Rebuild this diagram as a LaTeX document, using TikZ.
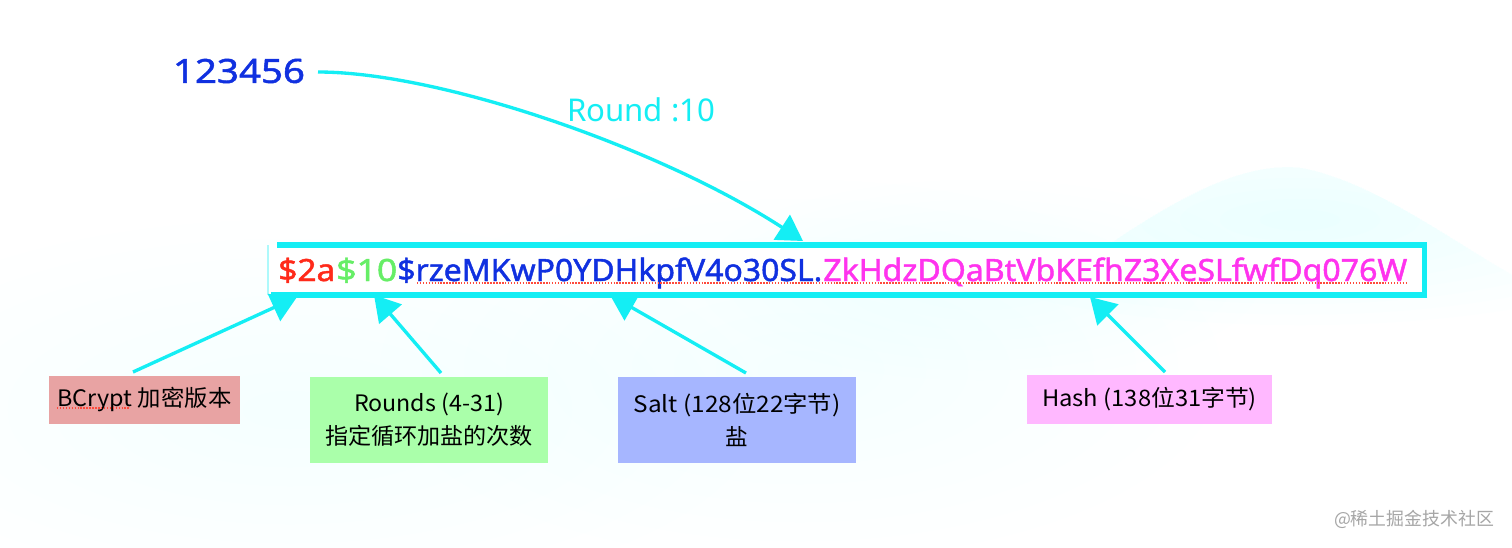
\documentclass[tikz,border=0pt]{standalone}
\usepackage{fontspec}
\usepackage{graphicx}
\usetikzlibrary{arrows.meta,calc}
\setmainfont{Noto Sans}
\newfontfamily\heavyfont[RawFeature={embolden=1.4}]{Noto Sans}
\newfontfamily\cjkfont{Noto Sans CJK SC}
\definecolor{cyanline}{HTML}{14EEF4}
\definecolor{pxred}{HTML}{FF2A1A}
\definecolor{pxgreen}{HTML}{66EE66}
\definecolor{pxblue}{HTML}{1030E0}
\definecolor{pxpink}{HTML}{FF33EE}
\newsavebox{\fitbox}
\newcommand{\fitrun}[2]{\sbox{\fitbox}{#2}\pgfmathsetmacro{\fitratio}{#1*0.75pt/\wd\fitbox}\scalebox{\fitratio}[1]{\usebox{\fitbox}}}
\newcommand{\lblrun}[2]{\raisebox{-1.5pt}{\fitrun{#1}{#2}}}
\newcommand{\softblob}[4]{\foreach \k in {1,0.9,0.8,0.7,0.6,0.5,0.4,0.3,0.2,0.1}{\fill[blend mode=multiply,fill={rgb,255:red,#4;green,255;blue,255}] (#1) ellipse ({\k*#2} and {\k*#3});}}
\tikzset{
  x=0.75pt,y=-0.75pt,
  label box/.style={draw=none,inner sep=0pt,align=center,text=black,font=\cjkfont\fontsize{17pt}{24.75pt}\selectfont},
  run/.style={anchor=base west,inner sep=0pt,font=\heavyfont\fontsize{23pt}{23pt}\selectfont},
  pointer/.style={draw=cyanline,line width=2.5pt,-{Triangle[length=19pt,width=22pt,fill=cyanline]}},
  squiggle/.style={draw=pxred!85!white,line width=1.3pt,dash pattern=on 1.1pt off 1.1pt},
  edge line/.style={draw=cyanline,line width=4.2pt}
}
\begin{document}
\begin{tikzpicture}
\useasboundingbox (0,0) rectangle (1512,547);
\fill[white] (0,0) rectangle (1512,547);
% pale background wash
\begin{scope}
\clip (0,0) rectangle (1512,547);
\softblob{290,410}{470}{190}{254}
\softblob{800,370}{420}{190}{254}
\softblob{980,280}{280}{100}{254}
\end{scope}
\begin{scope}
\clip (1000,320) .. controls (1130,230) and (1220,160) .. (1300,168)
  .. controls (1370,180) and (1450,240) .. (1512,275) -- (1512,547) -- (1000,547) -- cycle;
\softblob{1300,220}{400}{105}{253}
\end{scope}
% main string box
\node[fill=white,minimum width=1156*0.75pt,minimum height=49.5*0.75pt,inner sep=0pt,anchor=north west] (hashbox) at (268,245) {};
\draw[edge line] ([xshift=7pt]hashbox.north west) -- ([xshift=2.1pt]hashbox.north east);
\draw[edge line] (hashbox.north east) -- (hashbox.south east);
\draw[edge line] ([xshift=2.1pt]hashbox.south east) -- ([xshift=2pt]hashbox.south west);
\draw[draw=cyanline!35,line width=0.8pt] (hashbox.north west) -- (hashbox.south west);
\node[run,text=pxred] (ver) at (278,281) {\fitrun{57}{\$2a}};
\node[run,text=pxgreen] (rnd) at (336,281) {\fitrun{61}{\$10}};
\node[run,text=pxblue] (salt) at (397,281) {\fitrun{425}{\$rzeMKwP0YDHkpfV4o30SL.}};
\node[run,text=pxpink] (hash) at (823,281) {\fitrun{584}{ZkHdzDQaBtVbKEfhZ3XeSLfwfDq076W}};
\coordinate (ul1) at (417,283);
\coordinate (ul2) at (1407,283);
\draw[squiggle] (ul1) -- (ul2);
% labels
\node[inner sep=0pt,text=pxblue,font=\heavyfont\fontsize{25pt}{25pt}\selectfont] (pwd) at (239,71) {\fitrun{132}{123456}};
\node[inner sep=0pt,text=cyanline,font=\fontsize{23.5pt}{23.5pt}\selectfont] (roundlbl) at (641,110) {\fitrun{148}{Round :10}};
\node[inner sep=0pt,text=black!35,font=\cjkfont\fontsize{13.5pt}{13.5pt}\selectfont] (wm) at (1414,519) {\fitrun{160}{@稀土掘金技术社区}};
\node[label box,fill={rgb,255:red,232;green,163;blue,163},minimum width=191*0.75pt,minimum height=48*0.75pt] (vbox) at (144.5,400) {\lblrun{174}{BCrypt 加密版本}};
\node[label box,fill={rgb,255:red,170;green,255;blue,170},minimum width=238*0.75pt,minimum height=86*0.75pt] (rbox) at (429,420) {\lblrun{150}{Rounds (4-31)}\\\lblrun{208}{指定循环加盐的次数}};
\node[label box,fill={rgb,255:red,166;green,182;blue,255},minimum width=238*0.75pt,minimum height=86*0.75pt] (sbox) at (737,420) {\lblrun{207}{Salt (128位22字节)}\\\raisebox{-1.5pt}{盐}};
\node[label box,fill={rgb,255:red,255;green,184;blue,255},minimum width=245*0.75pt,minimum height=49*0.75pt] (hbox) at (1149.5,399.5) {\lblrun{215}{Hash (138位31字节)}};
\coordinate (bcu1) at (57,408);
\coordinate (bcu2) at (130,408);
\draw[squiggle,line width=0.8pt] (bcu1) -- (bcu2);
% connectors
\coordinate (a1s) at (133,372); \coordinate (a1e) at (297,297);
\coordinate (a2s) at (441,373); \coordinate (a2e) at (374,295);
\coordinate (a3s) at (746,373); \coordinate (a3e) at (610,295);
\coordinate (a4s) at (1165,372); \coordinate (a4e) at (1090,297);
\coordinate (a5s) at (318,72); \coordinate (a5e) at (803,241);
\draw[pointer] (a1s) -- (a1e);
\draw[pointer] (a2s) -- (a2e);
\draw[pointer] (a3s) -- (a3e);
\draw[pointer] (a4s) -- (a4e);
\draw[pointer] (a5s) .. controls (440,72) and (660,148) .. (a5e);
\end{tikzpicture}
\end{document}
